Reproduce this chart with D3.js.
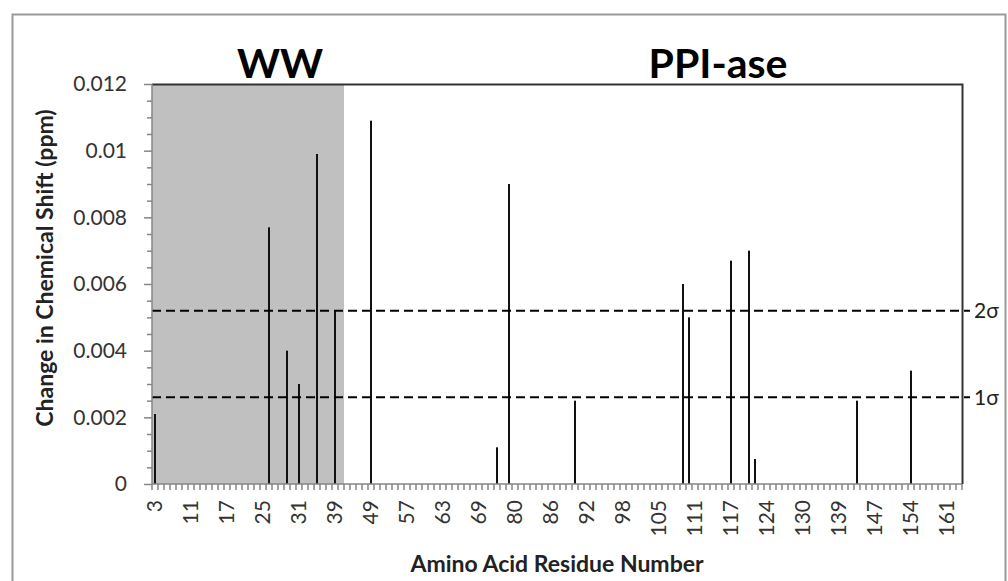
<!DOCTYPE html>
<html>
<head>
<meta charset="utf-8">
<script src="https://cdn.jsdelivr.net/npm/d3@7"></script>
<style>
  body { margin: 0; background: #fff; }
  svg { display: block; font-family: Lato, "Open Sans", sans-serif; }
</style>
</head>
<body>
<div class="container"></div>
<script>
// residues that have no peak assignment, so they are left off the category axis
const unassigned = [8, 9, 19, 20, 36, 37, 41, 42, 43, 44, 51, 52, 70, 71, 72, 73, 74,
  101, 120, 133, 134, 135, 142, 143, 149, 157];
const residues = d3.range(3, 164).filter((r) => !unassigned.includes(r));

// chemical shift changes (ppm)
const shiftResidue = [3, 26, 29, 31, 34, 39, 49, 77, 79, 90, 109, 110, 117, 121, 122, 144, 154];
const shiftValue = [0.0021, 0.0077, 0.0040, 0.0030, 0.0099, 0.0052, 0.0109, 0.0011, 0.0090,
  0.0025, 0.0060, 0.0050, 0.0067, 0.0070, 0.00075, 0.0025, 0.0034];

// axis labels
const xTickLabels = [3, 11, 17, 25, 31, 39, 49, 57, 63, 69, 80, 86, 92, 98, 105, 111, 117,
  124, 130, 139, 147, 154, 161];
const yTicks = [0, 0.002, 0.004, 0.006, 0.008, 0.01, 0.012];

// threshold lines
const sigmaValue = [0.0026, 0.0052];
const sigmaLabel = ["1σ", "2σ"];

// domains
const domainName = ["WW", "PPI-ase"];
const wwLastResidue = 40;

const width = 1008;
const height = 581;
const marginLeft = 152;
const marginRight = 46;
const marginTop = 84;
const marginBottom = 97;
const plotRight = width - marginRight;
const plotBottom = height - marginBottom;

const svg = d3.select(".container").append("svg")
  .attr("width", width)
  .attr("height", height);

svg.append("rect").attr("width", width).attr("height", height).attr("fill", "#fff");

// outer chart border
svg.append("rect")
  .attr("x", 12.5).attr("y", 14.5)
  .attr("width", 993).attr("height", 590)
  .attr("fill", "none")
  .attr("stroke", "#9a9a9a")
  .attr("stroke-width", 2);

const x = d3.scaleBand()
  .domain(residues)
  .range([marginLeft, plotRight]);

const y = d3.scaleLinear()
  .domain([0, 0.012])
  .range([plotBottom, marginTop]);

// WW domain shading
svg.append("rect")
  .attr("x", marginLeft)
  .attr("y", y(0.012))
  .attr("width", x(wwLastResidue) + x.bandwidth() - marginLeft)
  .attr("height", y(0) - y(0.012))
  .attr("fill", "#c0c0c0");

// bars
const bars = shiftResidue.map((r, i) => ({ r, v: shiftValue[i] }));
svg.append("g")
  .selectAll("rect")
  .data(bars)
  .join("rect")
  .attr("x", (d) => x(d.r) + x.bandwidth() / 2 - 1)
  .attr("y", (d) => y(d.v))
  .attr("width", 2)
  .attr("height", (d) => y(0) - y(d.v))
  .attr("fill", "#111");

// sigma lines
svg.append("g")
  .selectAll("line")
  .data(sigmaValue)
  .join("line")
  .attr("x1", marginLeft)
  .attr("x2", plotRight + 8)
  .attr("y1", (d) => y(d))
  .attr("y2", (d) => y(d))
  .attr("stroke", "#000")
  .attr("stroke-width", 2)
  .attr("stroke-dasharray", "9,5");

svg.append("g")
  .selectAll("text")
  .data(sigmaValue)
  .join("text")
  .attr("x", plotRight + 12)
  .attr("y", (d) => y(d))
  .attr("dy", "0.35em")
  .attr("font-size", 21)
  .attr("fill", "#222")
  .text((d, i) => sigmaLabel[i]);

// plot frame (top and right)
svg.append("path")
  .attr("d", `M${marginLeft},${marginTop + 0.5}H${plotRight + 0.5}V${plotBottom}`)
  .attr("fill", "none")
  .attr("stroke", "#333")
  .attr("stroke-width", 2);

// y axis
const yAxis = svg.append("g")
  .attr("transform", `translate(${marginLeft},0)`)
  .call(d3.axisLeft(y).tickValues(d3.range(0, 0.01201, 0.0005)).tickSize(5).tickFormat(""));
yAxis.selectAll(".tick line")
  .filter((d) => yTicks.some((t) => Math.abs(t - d) < 1e-9))
  .attr("x2", -8);
yAxis.select(".domain").attr("d", `M0,${marginTop}V${plotBottom}`);
yAxis.selectAll("line, path").attr("stroke", "#868686").attr("stroke-width", 1.5);

svg.append("g")
  .selectAll("text")
  .data(yTicks)
  .join("text")
  .attr("x", 127)
  .attr("y", (d) => y(d))
  .attr("dy", "0.35em")
  .attr("text-anchor", "end")
  .attr("font-size", 21)
  .attr("fill", "#333")
  .text(d3.format("~g"));

// x axis
const xAxis = svg.append("g")
  .attr("transform", `translate(0,${plotBottom})`)
  .call(d3.axisBottom(x).tickSize(0).tickFormat(""));
xAxis.select(".domain").attr("d", `M${marginLeft},0H${plotRight}`);
xAxis.selectAll(".tick line").remove();
xAxis.selectAll(".cat-tick")
  .data(residues.concat([null]))
  .join("line")
  .attr("x1", (d) => (d === null ? plotRight : x(d)))
  .attr("x2", (d) => (d === null ? plotRight : x(d)))
  .attr("y1", 0)
  .attr("y2", 6);
xAxis.selectAll("line, path").attr("stroke", "#868686").attr("stroke-width", 1.5);

svg.append("g")
  .selectAll("text")
  .data(xTickLabels)
  .join("text")
  .attr("transform", (d) => `translate(${x(d) + x.bandwidth() / 2},500) rotate(-90)`)
  .attr("dy", "0.35em")
  .attr("text-anchor", "end")
  .attr("font-size", 21)
  .attr("fill", "#333")
  .text((d) => d);

// axis titles
svg.append("text")
  .attr("x", (marginLeft + plotRight) / 2)
  .attr("y", 572)
  .attr("text-anchor", "middle")
  .attr("font-size", 23)
  .attr("font-weight", "bold")
  .attr("fill", "#222")
  .text("Amino Acid Residue Number");

svg.append("text")
  .attr("transform", "translate(45,268) rotate(-90)")
  .attr("dy", "0.35em")
  .attr("text-anchor", "middle")
  .attr("font-size", 23)
  .attr("font-weight", "bold")
  .attr("fill", "#222")
  .text("Change in Chemical Shift (ppm)");

// domain titles
svg.append("g")
  .selectAll("text")
  .data(domainName)
  .join("text")
  .attr("x", (d, i) => [280, 718][i])
  .attr("y", 78)
  .attr("text-anchor", "middle")
  .attr("font-size", 41)
  .attr("font-weight", "bold")
  .attr("fill", "#000")
  .text((d) => d);
</script>
</body>
</html>
